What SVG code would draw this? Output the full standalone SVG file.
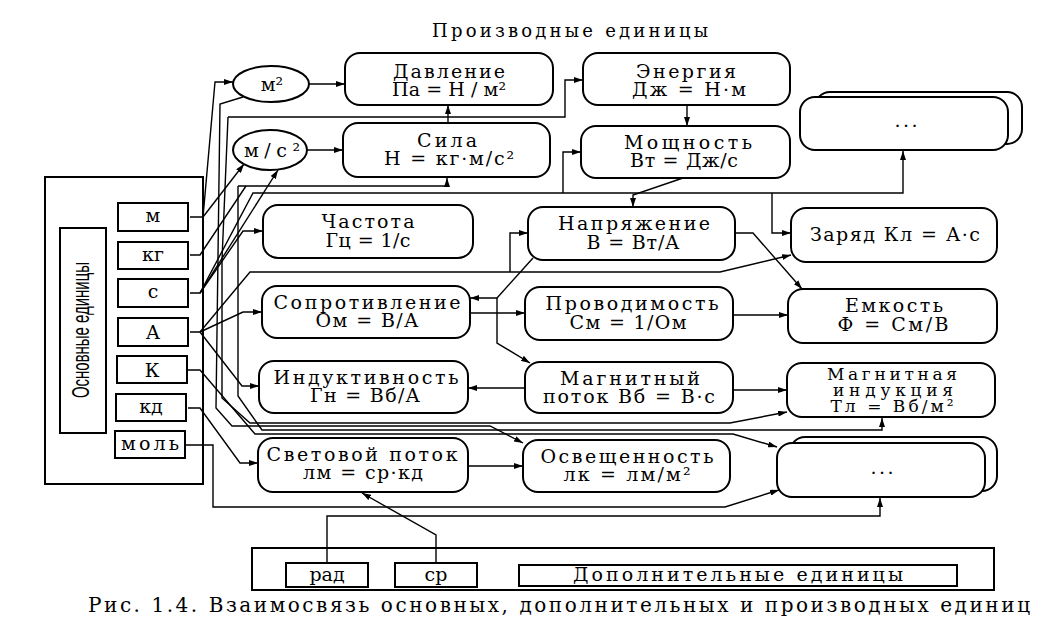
<svg xmlns="http://www.w3.org/2000/svg" width="1057" height="630" viewBox="0 0 1057 630">
<defs>
<style>
.n{fill:#fff;stroke:#000;stroke-width:2}
.b{fill:none;stroke:#000;stroke-width:2}
.c{fill:none;stroke:#000;stroke-width:1.4}
text{font-family:"DejaVu Serif","Liberation Serif","Times New Roman",serif;fill:#000}
.t{font-size:19px;text-anchor:middle}
.t3{font-size:17px;text-anchor:middle}
.u{font-size:19px;text-anchor:middle}
</style>
<marker id="ah" markerWidth="9" markerHeight="6" refX="9" refY="3" orient="auto" markerUnits="userSpaceOnUse"><path d="M0,0 L9,3 L0,6 z" fill="#000"/></marker>
</defs>
<rect width="1057" height="630" fill="#fff"/>
<text x="570" y="37" font-size="18" text-anchor="middle" textLength="276" lengthAdjust="spacing">Производные единицы</text>

<g id="connectors" class="c" marker-end="url(#ah)">
<path d="M190,217 H203 L215,82 H233"/>
<path d="M203,217 L244,164"/>
<path d="M309,84 H345"/>
<path d="M307,150 H343"/>
<path d="M448,123 V105"/>
<path d="M228,117 H565 V80 H583"/>
<path d="M243,97 L220,104 L216,408 L232,426 H490 L523,443"/>
<path d="M228,117 L222,260 L222,398 L250,423 H730 L787,412"/>
<path d="M238,186 H447 V178"/>
<path d="M238,186 V396 L262,430 H882 V418"/>
<path d="M190,255 H200 L246,186" marker-end="none"/>
<path d="M190,293 H200 L253,193 H903 V151"/>
<path d="M563,193 V152 H581"/>
<path d="M772,193 V233 H791"/>
<path d="M200,293 L278,170"/>
<path d="M200,293 L243,231 H263"/>
<path d="M190,332 H200 L250,272 H720 L791,255"/>
<path d="M510,272 V233 H528"/>
<path d="M200,332 L243,312 H262"/>
<path d="M200,332 L242,386 H259"/>
<path d="M188,370 H200 L255,434 H733 L777,447"/>
<path d="M188,408 H200 L240,463 H258"/>
<path d="M186,445 H213 V507 H725 L779,490"/>
<path d="M327,563 V516 H880 V498"/>
<path d="M436,563 V535 L362,493"/>
<path d="M683,178 L633,195 V207"/>
<path d="M687,105 V126"/>
<path d="M533,258 L497,298 H470"/>
<path d="M497,298 V343 L530,363"/>
<path d="M735,233 H753 L802,289"/>
<path d="M733,315 H788"/>
<path d="M470,313 H525"/>
<path d="M525,388 H468"/>
<path d="M733,390 H787"/>
<path d="M468,466 H523"/>
</g>

<g id="base">
<rect x="45" y="177" width="158" height="307" class="b"/>
<rect x="60" y="228" width="46" height="205" class="b"/>
<text transform="translate(89,330) rotate(-90)" font-size="23" text-anchor="middle" textLength="136" lengthAdjust="spacingAndGlyphs" style="font-family:'Liberation Sans',Arial,sans-serif">Основные единицы</text>
</g>
<g id="u-m"><rect x="118" y="203" width="70" height="28" class="b"/><text x="153" y="222" class="u">м</text></g>
<g id="u-kg"><rect x="118" y="242" width="70" height="27" class="b"/><text x="153" y="261" class="u">кг</text></g>
<g id="u-s"><rect x="118" y="279" width="70" height="28" class="b"/><text x="153" y="298" class="u">с</text></g>
<g id="u-A"><rect x="118" y="318" width="70" height="28" class="b"/><text x="153" y="339" class="u">А</text></g>
<g id="u-K"><rect x="117" y="356" width="70" height="27" class="b"/><text x="152" y="377" class="u">К</text></g>
<g id="u-kd"><rect x="116" y="394" width="70" height="27" class="b"/><text x="151" y="413" class="u">кд</text></g>
<g id="u-mol"><rect x="115" y="431" width="70" height="27" class="b"/><text x="150" y="450" class="u" textLength="58" lengthAdjust="spacing">моль</text></g>

<g id="m2"><ellipse cx="271" cy="84" rx="38" ry="18" class="n"/><text x="272" y="91" class="t">м²</text></g>
<g id="ms2"><ellipse cx="270" cy="150" rx="37" ry="20" class="n"/><text x="272" y="157" class="t" textLength="56" lengthAdjust="spacing">м/с²</text></g>

<g id="davlenie"><rect x="345" y="53" width="208" height="52" rx="15" class="n"/><text x="449" y="78" class="t" textLength="112" lengthAdjust="spacing">Давление</text><text x="449" y="96" class="t" textLength="114" lengthAdjust="spacing">Па = Н / м²</text></g>
<g id="energiya"><rect x="583" y="53" width="207" height="52" rx="15" class="n"/><text x="686" y="78" class="t" textLength="100" lengthAdjust="spacing">Энергия</text><text x="689" y="96" class="t" textLength="114" lengthAdjust="spacing">Дж = Н·м</text></g>
<g id="sila"><rect x="343" y="123" width="207" height="54" rx="15" class="n"/><text x="447" y="147" class="t" textLength="60" lengthAdjust="spacing">Сила</text><text x="449" y="165" class="t" textLength="130" lengthAdjust="spacing">Н = кг·м/с²</text></g>
<g id="moshchnost"><rect x="581" y="126" width="209" height="52" rx="15" class="n"/><text x="688" y="149" class="t" textLength="128" lengthAdjust="spacing">Мощность</text><text x="684" y="167" class="t" textLength="108" lengthAdjust="spacing">Вт = Дж/с</text></g>
<g id="more1"><rect x="815" y="92" width="207" height="52" rx="15" class="n"/><rect x="800" y="97" width="208" height="53" rx="15" class="n"/><text x="906" y="127" class="t" textLength="23" lengthAdjust="spacing">...</text></g>
<g id="chastota"><rect x="263" y="205" width="210" height="53" rx="15" class="n"/><text x="368" y="228" class="t" textLength="93" lengthAdjust="spacing">Частота</text><text x="368" y="247" class="t" textLength="85" lengthAdjust="spacing">Гц = 1/с</text></g>
<g id="napryazhenie"><rect x="528" y="207" width="207" height="53" rx="15" class="n"/><text x="634" y="230" class="t" textLength="152" lengthAdjust="spacing">Напряжение</text><text x="633" y="249" class="t" textLength="93" lengthAdjust="spacing">В = Вт/А</text></g>
<g id="zaryad"><rect x="791" y="208" width="206" height="54" rx="15" class="n"/><text x="895" y="241" class="t" textLength="170" lengthAdjust="spacing">Заряд Кл = А·с</text></g>
<g id="soprotivlenie"><rect x="262" y="286" width="208" height="52" rx="15" class="n"/><text x="367" y="309" class="t" textLength="187" lengthAdjust="spacing">Сопротивление</text><text x="367" y="327" class="t" textLength="103" lengthAdjust="spacing">Ом = В/А</text></g>
<g id="provodimost"><rect x="525" y="287" width="208" height="53" rx="15" class="n"/><text x="632" y="310" class="t" textLength="173" lengthAdjust="spacing">Проводимость</text><text x="628" y="329" class="t" textLength="117" lengthAdjust="spacing">См = 1/Ом</text></g>
<g id="emkost"><rect x="788" y="289" width="209" height="54" rx="15" class="n"/><text x="894" y="312" class="t" textLength="98" lengthAdjust="spacing">Емкость</text><text x="893" y="331" class="t" textLength="111" lengthAdjust="spacing">Ф = См/В</text></g>
<g id="induktivnost"><rect x="259" y="361" width="209" height="52" rx="15" class="n"/><text x="366" y="384" class="t" textLength="185" lengthAdjust="spacing">Индуктивность</text><text x="365" y="402" class="t" textLength="110" lengthAdjust="spacing">Гн = Вб/А</text></g>
<g id="magpotok"><rect x="525" y="362" width="208" height="51" rx="15" class="n"/><text x="630" y="385" class="t" textLength="140" lengthAdjust="spacing">Магнитный</text><text x="629" y="403" class="t" textLength="172" lengthAdjust="spacing">поток Вб = В·с</text></g>
<g id="magind"><rect x="787" y="363" width="208" height="54" rx="15" class="n"/><text x="892" y="380" class="t3" textLength="130" lengthAdjust="spacing">Магнитная</text><text x="893" y="396" class="t3" textLength="120" lengthAdjust="spacing">индукция</text><text x="892" y="412" class="t3" textLength="123" lengthAdjust="spacing">Тл = Вб/м²</text></g>
<g id="svetpotok"><rect x="258" y="438" width="210" height="54" rx="15" class="n"/><text x="362" y="461" class="t" textLength="191" lengthAdjust="spacing">Световой поток</text><text x="363" y="479" class="t" textLength="120" lengthAdjust="spacing">лм = ср·кд</text></g>
<g id="osveshchennost"><rect x="523" y="440" width="207" height="52" rx="15" class="n"/><text x="627" y="463" class="t" textLength="173" lengthAdjust="spacing">Освещенность</text><text x="627" y="481" class="t" textLength="127" lengthAdjust="spacing">лк = лм/м²</text></g>
<g id="more2"><rect x="790" y="437" width="207" height="54" rx="15" class="n"/><rect x="777" y="443" width="208" height="54" rx="15" class="n"/><text x="882" y="474" class="t" textLength="23" lengthAdjust="spacing">...</text></g>

<g id="supplementary">
<rect x="252" y="548" width="742" height="42" class="b"/>
<g id="u-rad"><rect x="286" y="563" width="82" height="24" class="b"/><text x="327" y="581" class="u" font-size="18">рад</text></g>
<g id="u-sr"><rect x="395" y="563" width="82" height="24" class="b"/><text x="436" y="581" class="u" font-size="18">ср</text></g>
<rect x="519" y="565" width="438" height="21" class="b"/>
<text x="738" y="581" class="t" font-size="19" textLength="330" lengthAdjust="spacing">Дополнительные единицы</text>
</g>

<text x="88" y="612" font-size="20" textLength="942" lengthAdjust="spacing">Рис. 1.4. Взаимосвязь основных, дополнительных и производных единиц</text>
</svg>
